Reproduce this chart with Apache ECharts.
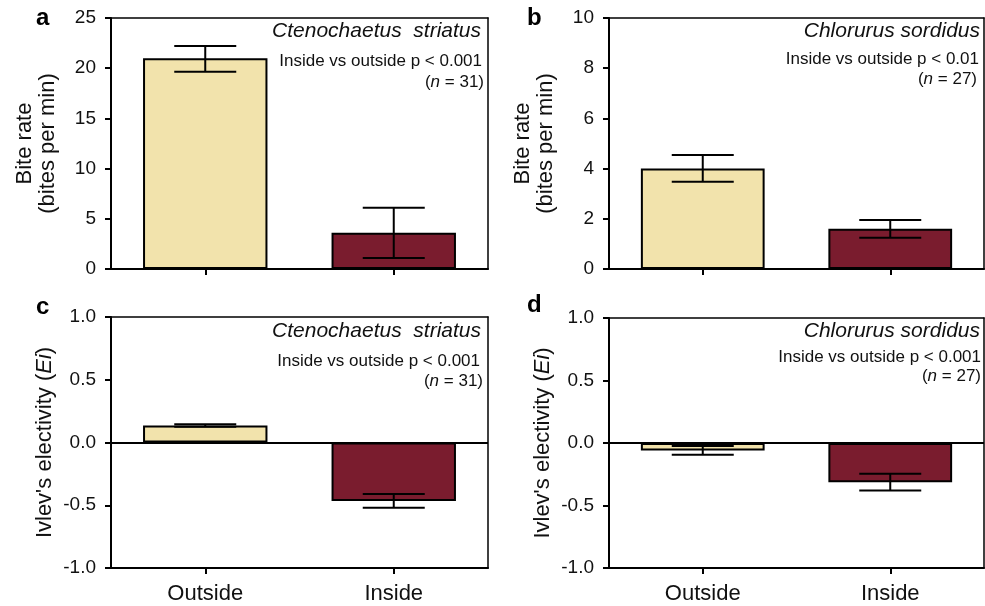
<!DOCTYPE html>
<html><head><meta charset="utf-8">
<script src="https://cdn.jsdelivr.net/npm/echarts@6/dist/echarts.min.js"></script>
<style>html,body{margin:0;padding:0;background:#fff}#c{width:985px;height:606px}</style>
</head><body><div id="c"></div>
<script>
const categories = ['Outside', 'Inside'];
// Panel a: Ctenochaetus striatus bite rate
const biteCtMean = [21.0, 3.6];
const biteCtLow = [19.65, 1.1];
const biteCtHigh = [22.2, 6.1];
// Panel b: Chlorurus sordidus bite rate
const biteCsMean = [4.0, 1.6];
const biteCsLow = [3.48, 1.25];
const biteCsHigh = [4.54, 1.95];
// Panel c: Ctenochaetus striatus Ivlev's electivity
const eiCtMean = [0.135, -0.467];
const eiCtLow = [0.125, -0.52];
const eiCtHigh = [0.145, -0.41];
// Panel d: Chlorurus sordidus Ivlev's electivity
const eiCsMean = [-0.06, -0.313];
const eiCsLow = [-0.093, -0.38];
const eiCsHigh = [-0.024, -0.245];

const barColors = ['#F2E3AC', '#7A1C2E'];
const FONT = 'Liberation Sans, Arial, sans-serif';

const grids = [
  {left: 111, top: 18, width: 377, height: 251},
  {left: 609, top: 18, width: 375, height: 251},
  {left: 111, top: 317, width: 377, height: 251},
  {left: 609, top: 318, width: 375, height: 250}
];

const yCfg = [
  {min: 0, max: 25, interval: 5, fmt: v => String(v), name: 'Bite rate\n(bites per min)', gap: 52},
  {min: 0, max: 10, interval: 2, fmt: v => String(v), name: 'Bite rate\n(bites per min)', gap: 52},
  {min: -1, max: 1, interval: 0.5, fmt: v => v.toFixed(1), name: "Ivlev's electivity ({i|Ei})", gap: 55},
  {min: -1, max: 1, interval: 0.5, fmt: v => v.toFixed(1), name: "Ivlev's electivity ({i|Ei})", gap: 55}
];

const panels = [
  {mean: biteCtMean, low: biteCtLow, high: biteCtHigh},
  {mean: biteCsMean, low: biteCsLow, high: biteCsHigh},
  {mean: eiCtMean, low: eiCtLow, high: eiCtHigh},
  {mean: eiCsMean, low: eiCsLow, high: eiCsHigh}
];

const xAxes = grids.map((g, i) => ({
  type: 'category', gridIndex: i, data: categories,
  axisLine: {onZero: false, lineStyle: {color: '#000', width: 2}},
  axisTick: {show: true, alignWithLabel: true, length: 6, lineStyle: {color: '#000', width: 2}},
  axisLabel: {show: i >= 2, color: '#111', fontSize: 22, fontFamily: FONT, margin: 15},
  splitLine: {show: false}
}));
grids.forEach((g, i) => xAxes.push({
  type: 'category', gridIndex: i, position: 'top', data: categories,
  axisLine: {onZero: false, lineStyle: {color: '#000', width: 1.5}},
  axisTick: {show: false}, axisLabel: {show: false}
}));

const yAxes = yCfg.map((c, i) => ({
  type: 'value', gridIndex: i, min: c.min, max: c.max, interval: c.interval,
  axisLine: {show: true, lineStyle: {color: '#000', width: 2}},
  axisTick: {show: true, length: 6, lineStyle: {color: '#000', width: 2}},
  axisLabel: {color: '#111', fontSize: 19, fontFamily: FONT, margin: 15, formatter: c.fmt},
  splitLine: {show: false},
  name: c.name, nameLocation: 'middle', nameGap: c.gap, nameRotate: 90,
  nameTextStyle: {color: '#111', fontSize: 22, fontFamily: FONT, lineHeight: 23,
    rich: {i: {fontStyle: 'italic', fontSize: 22, fontFamily: FONT, color: '#111'}}}
}));
yCfg.forEach((c, i) => yAxes.push({
  type: 'value', gridIndex: i, position: 'right', min: c.min, max: c.max, interval: c.interval,
  axisLine: {show: true, lineStyle: {color: '#000', width: 1.5}},
  axisTick: {show: false}, axisLabel: {show: false}, splitLine: {show: false}
}));

const series = [];
panels.forEach((p, i) => {
  series.push({
    type: 'bar', xAxisIndex: i, yAxisIndex: i, barCategoryGap: '34%',
    data: p.mean.map((v, k) => ({value: v, itemStyle: {color: barColors[k]}})),
    itemStyle: {borderColor: '#000', borderWidth: 2},
    markLine: i >= 2 ? {silent: true, symbol: 'none', label: {show: false},
      lineStyle: {color: '#000', width: 2, type: 'solid'}, data: [{yAxis: 0}]} : undefined,
    z: 2
  });
  series.push({
    type: 'custom', xAxisIndex: i, yAxisIndex: i, z: 5,
    data: p.mean.map((v, k) => [k, p.low[k], p.high[k]]),
    renderItem: function (params, api) {
      const x = api.value(0);
      const lo = api.coord([x, api.value(1)]);
      const hi = api.coord([x, api.value(2)]);
      const hw = 31;
      const st = {stroke: '#000', lineWidth: 2};
      return {type: 'group', children: [
        {type: 'line', shape: {x1: lo[0], y1: lo[1], x2: hi[0], y2: hi[1]}, style: st},
        {type: 'line', shape: {x1: lo[0] - hw, y1: lo[1], x2: lo[0] + hw, y2: lo[1]}, style: st},
        {type: 'line', shape: {x1: hi[0] - hw, y1: hi[1], x2: hi[0] + hw, y2: hi[1]}, style: st}
      ]};
    }
  });
});

const titles = [
  {text: 'a', left: 36, top: 6}, {text: 'b', left: 527, top: 6},
  {text: 'c', left: 36, top: 295}, {text: 'd', left: 527, top: 293}
].map(t => ({text: t.text, left: t.left, top: t.top, padding: 0,
  textStyle: {fontSize: 24, fontWeight: 'bold', color: '#000', fontFamily: FONT}}));

const annos = [
  {sp: 'Ctenochaetus  striatus', p: 'Inside vs outside p < 0.001', n: '31', spR: 504, pR: 503, nR: 501, spY: 21, pY: 53, nY: 74},
  {sp: 'Chlorurus sordidus', p: 'Inside vs outside p < 0.01', n: '27', spR: 5, pR: 6, nR: 8, spY: 21, pY: 51, nY: 71},
  {sp: 'Ctenochaetus  striatus', p: 'Inside vs outside p < 0.001', n: '31', spR: 504, pR: 505, nR: 502, spY: 321, pY: 353, nY: 373},
  {sp: 'Chlorurus sordidus', p: 'Inside vs outside p < 0.001', n: '27', spR: 5, pR: 4, nR: 4, spY: 321, pY: 349, nY: 368}
];
annos.forEach(a => {
  titles.push({text: a.sp, right: a.spR, top: a.spY, padding: 0,
    textStyle: {fontSize: 21, fontStyle: 'italic', fontWeight: 'normal', color: '#111', fontFamily: FONT}});
  titles.push({text: a.p, right: a.pR, top: a.pY, padding: 0,
    textStyle: {fontSize: 17, fontWeight: 'normal', color: '#111', fontFamily: FONT}});
  titles.push({text: '({i|n} = ' + a.n + ')', right: a.nR, top: a.nY, padding: 0,
    textStyle: {fontSize: 17, fontWeight: 'normal', color: '#111', fontFamily: FONT,
      rich: {i: {fontStyle: 'italic', fontSize: 17, color: '#111', fontFamily: FONT}}}});
});

const chart = echarts.init(document.getElementById('c'), null, {renderer: 'canvas'});
chart.setOption({
  animation: false,
  backgroundColor: '#fff',
  title: titles,
  grid: grids,
  xAxis: xAxes,
  yAxis: yAxes,
  series: series
});
</script></body></html>
